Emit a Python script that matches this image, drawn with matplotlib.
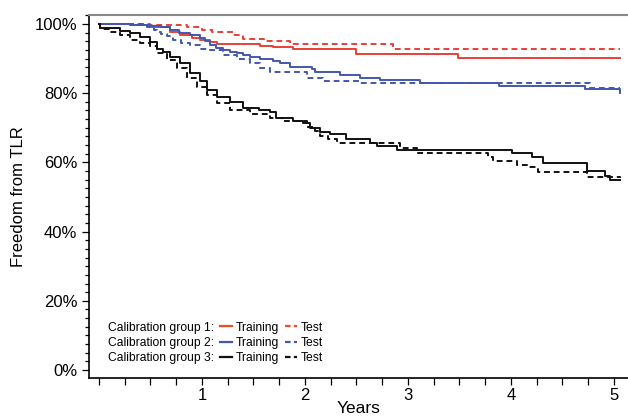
import matplotlib
matplotlib.use("Agg")
import matplotlib.pyplot as plt
from matplotlib.lines import Line2D
from matplotlib.patches import Rectangle
from matplotlib.ticker import MultipleLocator, FixedLocator

plt.rcParams['font.family'] = ['Liberation Sans', 'DejaVu Sans']

# ---- data (years, freedom from TLR %) ----
red_train_t = [0, 0.3, 0.5, 0.69, 0.79, 0.9, 0.98, 1.08, 1.15, 1.56, 1.69, 1.88, 2.5, 3.49, 5.06]
red_train_s = [100, 99.6, 99.0, 97.8, 96.8, 96.0, 95.4, 94.8, 94.2, 93.7, 93.4, 92.9, 91.2, 90.2, 90.2]

red_test_t = [0, 0.5, 0.85, 1.0, 1.1, 1.3, 1.4, 1.6, 1.85, 2.85, 5.06]
red_test_s = [100, 99.6, 99.2, 98.3, 97.6, 96.8, 95.7, 95.0, 94.1, 92.9, 92.9]

blue_train_t = [0, 0.3, 0.5, 0.6, 0.69, 0.78, 0.88, 0.98, 1.03, 1.08, 1.14, 1.2, 1.27, 1.34, 1.4,
                1.47, 1.56, 1.66, 1.69, 1.76, 1.85, 2.07, 2.1, 2.34, 2.53, 2.73, 3.12, 3.88, 4.72, 5.06]
blue_train_s = [100, 99.7, 99.4, 99.0, 98.3, 97.5, 96.8, 95.9, 95.0, 93.9, 93.2, 92.5, 92.0, 91.5, 91.0,
                90.5, 90.0, 89.8, 89.4, 88.6, 87.5, 86.9, 86.0, 85.3, 84.3, 83.8, 82.9, 82.1, 81.1, 80.0]

blue_test_t = [0, 0.47, 0.53, 0.56, 0.6, 0.66, 0.72, 0.8, 0.88, 0.98, 1.08, 1.2, 1.34, 1.47, 1.56,
               1.66, 1.72, 2.02, 2.17, 2.53, 4.77, 5.06]
blue_test_s = [100, 99.0, 98.4, 97.8, 97.0, 96.4, 95.3, 94.6, 93.9, 92.9, 92.5, 91.0, 90.0, 88.6, 87.2,
               86.2, 86.0, 84.3, 83.4, 82.9, 81.6, 81.6]

black_train_t = [0, 0.01, 0.2, 0.3, 0.4, 0.5, 0.56, 0.62, 0.69, 0.79, 0.88, 0.98, 1.05, 1.15, 1.27,
                 1.4, 1.55, 1.66, 1.72, 1.88, 1.98, 2.05, 2.15, 2.24, 2.4, 2.63, 2.7, 2.89, 4.01, 4.2,
                 4.31, 4.74, 4.91, 4.96, 5.06]
black_train_s = [100, 98.8, 98.1, 97.3, 96.1, 94.9, 92.9, 91.8, 90.6, 88.6, 85.7, 83.4, 80.9, 79.0, 77.6,
                 75.6, 75.0, 74.7, 72.7, 72.0, 71.3, 69.8, 68.9, 68.2, 66.8, 65.5, 64.8, 63.6, 62.6, 61.7,
                 59.9, 57.6, 56.1, 54.9, 54.9]

black_test_t = [0, 0.01, 0.1, 0.2, 0.3, 0.4, 0.5, 0.56, 0.66, 0.76, 0.85, 0.95, 1.05, 1.15, 1.27,
                1.47, 1.66, 1.78, 2.02, 2.1, 2.15, 2.22, 2.31, 2.92, 3.09, 3.78, 3.83, 4.06, 4.16, 4.26,
                4.74, 5.06]
black_test_s = [100, 98.5, 97.8, 96.8, 95.4, 94.4, 93.6, 91.5, 89.6, 87.2, 84.3, 81.9, 79.5, 77.1, 75.1,
                73.9, 72.7, 72.0, 70.3, 69.0, 67.6, 66.7, 65.5, 64.3, 62.6, 61.5, 60.5, 59.2, 58.6, 57.1,
                55.7, 55.4]

group_labels = ["Calibration group 1:", "Calibration group 2:", "Calibration group 3:"]
x_ticks = [1, 2, 3, 4, 5]
y_ticks = [0, 20, 40, 60, 80, 100]
y_ticklabels = ["0%", "20%", "40%", "60%", "80%", "100%"]

RED = '#e8403a'
BLUE = '#4356b0'
BLACK = '#111111'

fig = plt.figure(figsize=(6.28, 4.16), dpi=100)
ax = fig.add_axes([89/628, 1 - 378/416, 1 - 89/628, (378 - 15)/416])

lw = 1.4
dash = (0, (3, 2))
ax.step(red_train_t, red_train_s, where='post', color=RED, lw=lw)
ax.step(red_test_t, red_test_s, where='post', color=RED, lw=lw, linestyle=dash)
ax.step(blue_train_t, blue_train_s, where='post', color=BLUE, lw=lw)
ax.step(blue_test_t, blue_test_s, where='post', color=BLUE, lw=lw, linestyle=dash)
ax.step(black_train_t, black_train_s, where='post', color=BLACK, lw=lw)
ax.step(black_test_t, black_test_s, where='post', color=BLACK, lw=lw, linestyle=dash)

ax.set_xlim(-0.097, 5.136)
ax.set_ylim(-2.31, 102.6)

ax.xaxis.set_major_locator(FixedLocator(x_ticks))
ax.xaxis.set_minor_locator(FixedLocator([i * 0.25 for i in range(21) if i % 4 != 0 or i == 0]))
ax.yaxis.set_major_locator(FixedLocator(y_ticks))
ax.set_yticklabels(y_ticklabels)
ax.yaxis.set_minor_locator(MultipleLocator(2.5))

ax.tick_params(axis='both', which='both', direction='out', color='black', width=0.9)
ax.tick_params(axis='both', which='major', length=5, labelsize=12)
ax.tick_params(axis='x', which='minor', length=5)
ax.tick_params(axis='y', which='minor', length=3)
ax.tick_params(axis='x', which='major', pad=2)

ax.spines['right'].set_visible(False)
ax.spines['top'].set_color('#888888')
ax.spines['top'].set_linewidth(1.5)
ax.spines['left'].set_linewidth(1.2)
ax.spines['bottom'].set_linewidth(1.2)

ax.set_xlabel("Years", fontsize=12.5, labelpad=-1)
ax.set_ylabel("Freedom from TLR", fontsize=12, labelpad=6)

# legend: column 1 group labels, column 2 training, column 3 test
blank = Rectangle((0, 0), 1, 1, fill=False, edgecolor='none', visible=False)
handles = [blank, blank, blank,
           Line2D([], [], color='#f04a26', lw=1.6),
           Line2D([], [], color=BLUE, lw=1.6),
           Line2D([], [], color=BLACK, lw=1.6),
           Line2D([], [], color='#f04a26', lw=1.6, linestyle=(0, (2.5, 1.5))),
           Line2D([], [], color=BLUE, lw=1.6, linestyle=(0, (2.5, 1.5))),
           Line2D([], [], color=BLACK, lw=1.6, linestyle=(0, (2.5, 1.5)))]
labels = group_labels + ["Training"] * 3 + ["Test"] * 3
leg = ax.legend(handles, labels, ncol=3, frameon=False, fontsize=8.7,
                loc='lower left', bbox_to_anchor=(-0.008, 0.018),
                handlelength=1.0, handletextpad=0.3, columnspacing=0.5,
                labelspacing=0.27, borderaxespad=0.2)

fig.savefig("out.png", dpi=100)
